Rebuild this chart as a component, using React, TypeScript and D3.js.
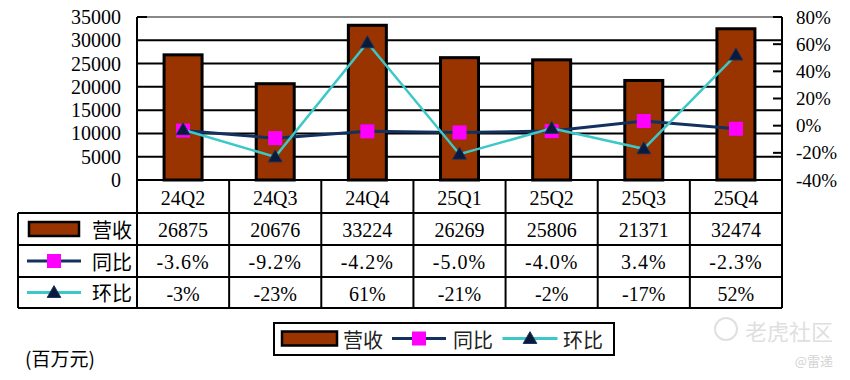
import React from "react";
import * as d3 from "d3";

const categories = ["24Q2", "24Q3", "24Q4", "25Q1", "25Q2", "25Q3", "25Q4"];
const revenue = [26875, 20676, 33224, 26269, 25806, 21371, 32474];
const yoy = [-3.6, -9.2, -4.2, -5.0, -4.0, 3.4, -2.3];
const qoq = [-3, -23, 61, -21, -2, -17, 52];
const yoyLabels = ["-3.6%", "-9.2%", "-4.2%", "-5.0%", "-4.0%", "3.4%", "-2.3%"];
const qoqLabels = ["-3%", "-23%", "61%", "-21%", "-2%", "-17%", "52%"];
const leftTicks = [0, 5000, 10000, 15000, 20000, 25000, 30000, 35000];
const rightTicks = [-40, -20, 0, 20, 40, 60, 80];
const seriesNames = ["营收", "同比", "环比"];

const BAR = "#993300";
const NAVY = "#13305f";
const TEAL = "#3cc8c8";
const MAG = "#ff00ff";
const TRI = "#0a1a3a";
const NUM_FONT = "'Liberation Serif', 'DejaVu Serif', serif";
const CJK_FONT = "'Noto Sans CJK SC', 'Noto Sans', sans-serif";

export default function App() {
  const left = 137, right = 782, top = 17, bottom = 180;
  const x = d3.scaleBand<string>().domain(categories).range([left, right]);
  const yL = d3.scaleLinear().domain([0, 35000]).range([bottom, top]);
  const yR = d3.scaleLinear().domain([-40, 80]).range([bottom, top]);
  const cx = (c: string) => (x(c) as number) + x.bandwidth() / 2;
  const barW = 38;

  const lineGen = (vals: number[]) =>
    d3.line<number>().x((_, i) => cx(categories[i])).y((v) => yR(v))(vals) as string;
  const tri = d3.symbol().type(d3.symbolTriangle).size(80)() as string;

  const rowTops = [bottom, 213, 245, 277, 308];
  const tableLeft = 18;

  const legendIcon = (kind: number, cxp: number, cy: number, lw: number) => {
    if (kind === 0)
      return (
        <rect x={cxp - lw / 2} y={cy - 7} width={lw} height={14} fill={BAR} stroke="#000" strokeWidth={2.5} />
      );
    if (kind === 1)
      return (
        <g>
          <line x1={cxp - lw / 2} x2={cxp + lw / 2} y1={cy} y2={cy} stroke={NAVY} strokeWidth={3} />
          <rect x={cxp - 7} y={cy - 7} width={14} height={14} fill={MAG} />
        </g>
      );
    return (
      <g>
        <line x1={cxp - lw / 2} x2={cxp + lw / 2} y1={cy} y2={cy} stroke={TEAL} strokeWidth={3} />
        <path d={tri} transform={`translate(${cxp},${cy + 1})`} fill={TRI} stroke={NAVY} strokeWidth={1} />
      </g>
    );
  };

  return (
    <svg width={850} height={380} style={{ position: "absolute", left: 0, top: 0, background: "#fff" }}>
      <rect width={850} height={380} fill="#fff" />
      {/* gridlines */}
      {leftTicks.filter((t) => t > 0 && t < 35000).map((t) => (
        <line key={t} x1={left} x2={right} y1={yL(t)} y2={yL(t)} stroke="#000" strokeWidth={2} />
      ))}
      <line x1={left} x2={right} y1={top} y2={top} stroke="#888" strokeWidth={2} />
      <line x1={left} x2={left + 10} y1={top} y2={top} stroke="#000" strokeWidth={2} />
      {/* left axis labels */}
      {leftTicks.map((t) => (
        <text key={t} x={121} y={yL(t)} textAnchor="end" dominantBaseline="central" fontFamily={NUM_FONT} fontSize={20} fill="#000">
          {t}
        </text>
      ))}
      {/* right axis */}
      <line x1={right} x2={right} y1={top} y2={bottom} stroke="#000" strokeWidth={2} />
      {rightTicks.map((t) => (
        <g key={t}>
          <line x1={right - 9} x2={right} y1={yR(t)} y2={yR(t)} stroke="#000" strokeWidth={2} />
          <text x={796} y={yR(t)} textAnchor="start" dominantBaseline="central" fontFamily={NUM_FONT} fontSize={19} fill="#000">
            {t}%
          </text>
        </g>
      ))}
      {/* bars */}
      {revenue.map((v, i) => (
        <rect key={i} x={cx(categories[i]) - barW / 2} y={yL(v)} width={barW} height={yL(0) - yL(v)} fill={BAR} stroke="#000" strokeWidth={3} />
      ))}
      {/* left axis line */}
      <line x1={left} x2={left} y1={top} y2={rowTops[1]} stroke="#000" strokeWidth={2} />
      {/* yoy line */}
      <path d={lineGen(yoy)} fill="none" stroke={NAVY} strokeWidth={3} />
      {yoy.map((v, i) => (
        <rect key={i} x={cx(categories[i]) - 7} y={yR(v) - 7} width={14} height={14} fill={MAG} />
      ))}
      {/* qoq line */}
      <path d={lineGen(qoq)} fill="none" stroke={TEAL} strokeWidth={2.5} />
      {qoq.map((v, i) => (
        <path key={i} d={tri} transform={`translate(${cx(categories[i])},${yR(v) + 1})`} fill={TRI} stroke={NAVY} strokeWidth={1} />
      ))}
      {/* table */}
      <line x1={left} x2={right} y1={bottom} y2={bottom} stroke="#000" strokeWidth={2} />
      {rowTops.slice(1).map((y, i) => (
        <line key={i} x1={tableLeft} x2={right} y1={y} y2={y} stroke="#000" strokeWidth={2} />
      ))}
      <line x1={tableLeft} x2={tableLeft} y1={rowTops[1]} y2={rowTops[4]} stroke="#000" strokeWidth={2} />
      <line x1={left} x2={left} y1={rowTops[1]} y2={rowTops[4]} stroke="#000" strokeWidth={2} />
      {categories.map((c) => (
        <line key={c} x1={(x(c) as number) + x.bandwidth()} x2={(x(c) as number) + x.bandwidth()} y1={bottom} y2={rowTops[4]} stroke="#000" strokeWidth={2} />
      ))}
      {categories.map((c, i) => {
        const mid = (k: number) => (rowTops[k] + rowTops[k + 1]) / 2 + 1;
        return (
          <g key={c} fontFamily={NUM_FONT} fontSize={20} fill="#000" textAnchor="middle">
            <text x={cx(c)} y={mid(0)} dominantBaseline="central">{c}</text>
            <text x={cx(c)} y={mid(1)} dominantBaseline="central">{revenue[i]}</text>
            <text x={cx(c)} y={mid(2)} dominantBaseline="central" letterSpacing={1}>{yoyLabels[i]}</text>
            <text x={cx(c)} y={mid(3)} dominantBaseline="central">{qoqLabels[i]}</text>
          </g>
        );
      })}
      {seriesNames.map((n, k) => {
        const cy = (rowTops[k + 1] + rowTops[k + 2]) / 2;
        return (
          <g key={n}>
            {legendIcon(k, 54, cy, k === 0 ? 50 : 54)}
            <text x={132} y={cy} textAnchor="end" dominantBaseline="central" fontFamily={CJK_FONT} fontSize={20} fill="#000">
              {n}
            </text>
          </g>
        );
      })}
      {/* bottom legend */}
      <rect x={274} y={323} width={340} height={32} fill="#fff" stroke="#000" strokeWidth={2} />
      {legendIcon(0, 309.5, 338.5, 55)}
      <text x={343} y={339} dominantBaseline="central" fontFamily={CJK_FONT} fontSize={20} fill="#222">{seriesNames[0]}</text>
      {legendIcon(1, 419, 338.5, 54)}
      <text x={453} y={339} dominantBaseline="central" fontFamily={CJK_FONT} fontSize={20} fill="#222">{seriesNames[1]}</text>
      {legendIcon(2, 530, 338.5, 55)}
      <text x={563} y={339} dominantBaseline="central" fontFamily={CJK_FONT} fontSize={20} fill="#222">{seriesNames[2]}</text>
      {/* unit label */}
      <text x={25} y={357} dominantBaseline="central" fontFamily={CJK_FONT} fontSize={19} fill="#000">(百万元)</text>
      {/* watermark */}
      <g opacity={0.9}>
        <circle cx={726} cy={329} r={11} fill="none" stroke="#ddd" strokeWidth={2} />
        <text x={745} y={330} dominantBaseline="central" fontFamily={CJK_FONT} fontSize={22} fill="#dcdcdc">老虎社区</text>
        <text x={833} y={360} textAnchor="end" dominantBaseline="central" fontFamily={CJK_FONT} fontSize={13} fill="#cfcfcf">@雷递</text>
      </g>
    </svg>
  );
}
